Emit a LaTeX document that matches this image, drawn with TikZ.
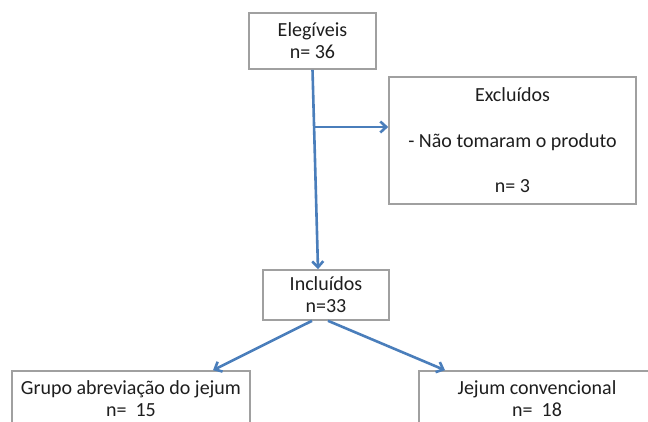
\documentclass[tikz,border=0pt]{standalone}
\usepackage{fontspec}
\setmainfont{Carlito}
\usetikzlibrary{arrows.meta}
\definecolor{blueline}{RGB}{74,126,187}
\definecolor{boxline}{RGB}{160,160,160}
\definecolor{txt}{RGB}{30,30,30}
\begin{document}
\begin{tikzpicture}[x=1pt,y=-1pt,
  box/.style={draw=boxline, line width=1.6pt, fill=white, inner sep=0pt, align=center,
    font=\fontsize{20}{22}\selectfont, text=txt},
  conn/.style={draw=blueline, line width=2.6pt, -{Straight Barb[length=6pt,width=11pt]}}]
\useasboundingbox (0,0) rectangle (648,422);
\clip (0,0) rectangle (648,422);
\fill[white] (0,0) rectangle (648,422);
\node[box, minimum width=127pt, minimum height=56pt] (eleg) at (312.5,41) {Elegíveis\\n= 36};
\node[box, minimum width=247pt, minimum height=127pt] (excl) at (512.5,140.5) {Excluídos\\[24pt]- Não tomaram o produto\\[23pt]n= 3};
\node[box, minimum width=126pt, minimum height=50pt] (incl) at (326,295) {Incluídos\\n=33};
\node[box, minimum width=238pt, minimum height=56pt] (grupo) at (131,399) {Grupo abreviação do jejum\\n=\ \ 15};
\node[box, minimum width=236pt, minimum height=56pt] (conv) at (537,399) {Jejum convencional\\n=\ \ 18};
\draw[conn] (eleg.south) -- ([xshift=-8pt]incl.north);
\coordinate (hstart) at (314,127);
\draw[conn] (hstart) -- (hstart -| excl.west);
\draw[conn] ([xshift=-14pt]incl.south) -- ([xshift=82pt]grupo.north);
\draw[conn] ([xshift=2pt]incl.south) -- ([xshift=-92pt]conv.north);
\end{tikzpicture}
\end{document}
